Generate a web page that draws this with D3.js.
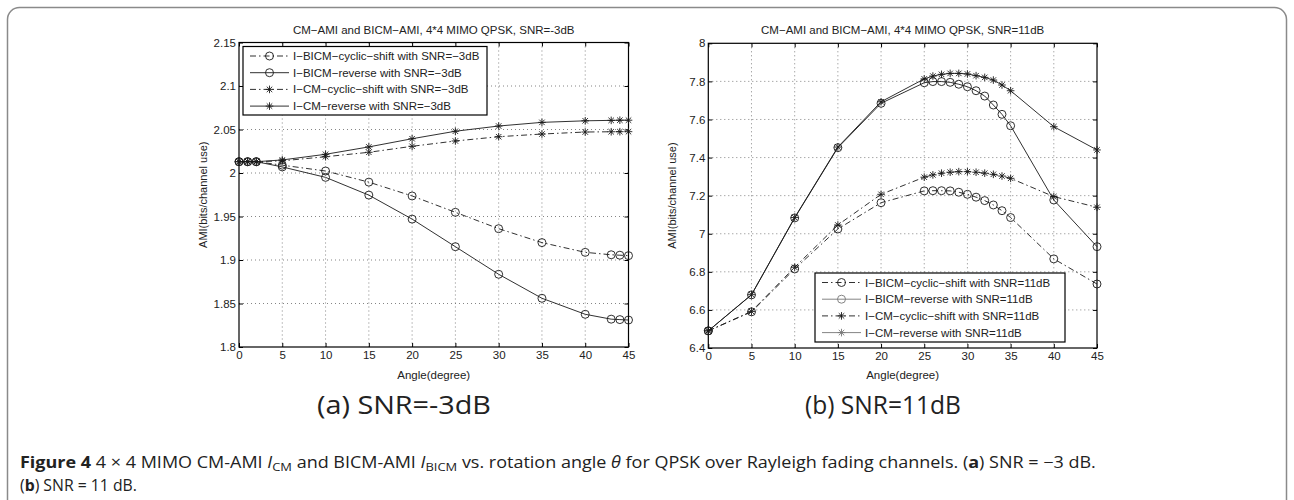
<!DOCTYPE html>
<html>
<head>
<meta charset="utf-8">
<script src="https://cdn.jsdelivr.net/npm/d3@7"></script>
<style>
  body { margin: 0; background: #fff; }
  svg { display: block; }
</style>
</head>
<body>
<div id="chart"></div>
<script>
// AMI vs rotation angle, two panels (SNR=-3dB and SNR=11dB)

const xTicks = [0, 5, 10, 15, 20, 25, 30, 35, 40, 45];

// panel (a) SNR = -3dB
const angles3 = [0, 1, 2, 5, 10, 15, 20, 25, 30, 35, 40, 43, 44, 45];
const bicmCyc3 = [2.013, 2.013, 2.013, 2.009, 2.0023, 1.9895, 1.9736, 1.9548, 1.936, 1.920, 1.9088, 1.906, 1.9055, 1.905];
const bicmRev3 = [2.013, 2.013, 2.013, 2.007, 1.995, 1.9746, 1.947, 1.9153, 1.8836, 1.856, 1.8376, 1.832, 1.8315, 1.831];
const cmCyc3 = [2.013, 2.013, 2.013, 2.014, 2.0187, 2.0238, 2.0307, 2.0368, 2.0417, 2.0448, 2.0471, 2.0474, 2.0475, 2.0475];
const cmRev3 = [2.013, 2.013, 2.013, 2.015, 2.0215, 2.030, 2.0394, 2.048, 2.054, 2.0582, 2.060, 2.0605, 2.0607, 2.0607];
const yTicks3 = [1.8, 1.85, 1.9, 1.95, 2, 2.05, 2.1, 2.15];

// panel (b) SNR = 11dB
const angles11 = [0, 5, 10, 15, 20, 25, 26, 27, 28, 29, 30, 31, 32, 33, 34, 35, 40, 45];
const bicmCyc11 = [6.49, 6.59, 6.815, 7.025, 7.163, 7.225, 7.226, 7.226, 7.225, 7.218, 7.207, 7.192, 7.174, 7.151, 7.121, 7.085, 6.868, 6.736];
const bicmRev11 = [6.49, 6.679, 7.083, 7.452, 7.685, 7.793, 7.799, 7.799, 7.795, 7.785, 7.772, 7.751, 7.723, 7.676, 7.627, 7.567, 7.177, 6.932];
const cmCyc11 = [6.49, 6.592, 6.824, 7.046, 7.207, 7.297, 7.309, 7.318, 7.323, 7.326, 7.326, 7.323, 7.318, 7.312, 7.303, 7.291, 7.195, 7.139];
const cmRev11 = [6.49, 6.68, 7.085, 7.455, 7.693, 7.813, 7.828, 7.837, 7.842, 7.842, 7.839, 7.830, 7.821, 7.807, 7.781, 7.751, 7.562, 7.44];
const yTicks11 = [6.4, 6.6, 6.8, 7, 7.2, 7.4, 7.6, 7.8, 8];

const seriesNames = ["I\u2212BICM\u2212cyclic\u2212shift", "I\u2212BICM\u2212reverse", "I\u2212CM\u2212cyclic\u2212shift", "I\u2212CM\u2212reverse"];
const seriesStyle = [
  { dash: "6,3,1.5,3", marker: "circle" },
  { dash: null, marker: "circle" },
  { dash: "6,3,1.5,3", marker: "star" },
  { dash: null, marker: "star" }
];

const W = 1294, H = 500;
const FONT = "'Liberation Sans', Arial, sans-serif";

const svg = d3.select("#chart").append("svg")
  .attr("width", W).attr("height", H)
  .attr("viewBox", `0 0 ${W} ${H}`);

// outer figure frame
svg.append("rect")
  .attr("x", 7.5).attr("y", 7.5)
  .attr("width", W - 15).attr("height", H + 30)
  .attr("rx", 12)
  .attr("fill", "none").attr("stroke", "#8a8a8a").attr("stroke-width", 1.5);

const starPath = r => {
  const d = r * 0.72;
  return `M${-r},0L${r},0M0,${-r}L0,${r}M${-d},${-d}L${d},${d}M${-d},${d}L${d},${-d}`;
};

function drawMarker(g, type, x, y, color) {
  if (type === "circle") {
    g.append("circle").attr("cx", x).attr("cy", y).attr("r", 4)
      .attr("fill", "none").attr("stroke", color).attr("stroke-width", 0.9);
  } else {
    g.append("path").attr("transform", `translate(${x},${y})`)
      .attr("d", starPath(3.8))
      .attr("fill", "none").attr("stroke", color).attr("stroke-width", 0.9);
  }
}

function drawPanel(cfg) {
  const x = d3.scaleLinear().domain([0, 45]).range(cfg.xRange);
  const y = d3.scaleLinear().domain(cfg.yDomain).range(cfg.yRange);
  const [x0, x1] = cfg.xRange;
  const [y1, y0] = cfg.yRange;
  const g = svg.append("g");

  // dotted grid
  g.append("g").selectAll("line").data(xTicks.slice(1, -1)).join("line")
    .attr("x1", d => x(d)).attr("x2", d => x(d))
    .attr("y1", y0).attr("y2", y1)
    .attr("stroke", "#666").attr("stroke-width", 0.8).attr("stroke-dasharray", "1,3");
  g.append("g").selectAll("line").data(cfg.yTicks.slice(1, -1)).join("line")
    .attr("x1", x0).attr("x2", x1)
    .attr("y1", d => y(d)).attr("y2", d => y(d))
    .attr("stroke", "#666").attr("stroke-width", 0.8).attr("stroke-dasharray", "1,3");

  // axes, ticks pointing inward
  const styleAxis = sel => {
    sel.select(".domain").remove();
    sel.selectAll("line").attr("stroke", "#000");
    sel.selectAll("text").attr("font-family", FONT).attr("font-size", 11.5).attr("fill", "#222");
  };
  g.append("g").attr("transform", `translate(0,${y1})`)
    .call(d3.axisBottom(x).tickValues(xTicks).tickSize(-4).tickPadding(4).tickFormat(d => d))
    .call(styleAxis);
  g.append("g").attr("transform", `translate(0,${y0})`)
    .call(d3.axisTop(x).tickValues(xTicks).tickSize(-4).tickFormat(""))
    .call(styleAxis);
  g.append("g").attr("transform", `translate(${x0},0)`)
    .call(d3.axisLeft(y).tickValues(cfg.yTicks).tickSize(-4).tickPadding(3).tickFormat(d => String(d)))
    .call(styleAxis);
  g.append("g").attr("transform", `translate(${x1},0)`)
    .call(d3.axisRight(y).tickValues(cfg.yTicks).tickSize(-4).tickFormat(""))
    .call(styleAxis);

  g.append("rect").attr("x", x0).attr("y", y0)
    .attr("width", x1 - x0).attr("height", y1 - y0)
    .attr("fill", "none").attr("stroke", "#000").attr("stroke-width", 1.2);

  // series
  const line = d3.line().x(d => x(d[0])).y(d => y(d[1]));
  cfg.series.forEach((vals, i) => {
    const pts = cfg.angles.map((a, k) => [a, vals[k]]);
    const st = seriesStyle[i];
    g.append("path").datum(pts)
      .attr("d", line)
      .attr("fill", "none").attr("stroke", "#1a1a1a").attr("stroke-width", 0.9)
      .attr("stroke-dasharray", st.dash);
    const mg = g.append("g");
    pts.forEach(p => drawMarker(mg, st.marker, x(p[0]), y(p[1]), "#1a1a1a"));
  });

  // title and axis labels
  g.append("text").attr("x", (x0 + x1) / 2).attr("y", 34)
    .attr("text-anchor", "middle").attr("font-family", FONT).attr("font-size", 11.5).attr("fill", "#222")
    .text(cfg.title);
  g.append("text").attr("x", (x0 + x1) / 2).attr("y", 379)
    .attr("text-anchor", "middle").attr("font-family", FONT).attr("font-size", 11.5).attr("fill", "#222")
    .text("Angle(degree)");
  g.append("text")
    .attr("transform", `translate(${x0 - 32},${(y0 + y1) / 2}) rotate(-90)`)
    .attr("text-anchor", "middle").attr("font-family", FONT).attr("font-size", 11).attr("fill", "#222")
    .text("AMI(bits/channel use)");

  // legend
  const L = cfg.legend;
  const lg = g.append("g");
  lg.append("rect").attr("x", L.x).attr("y", L.y).attr("width", L.w).attr("height", L.h)
    .attr("fill", "#fff").attr("stroke", "#000").attr("stroke-width", 1.2);
  seriesNames.forEach((name, i) => {
    const cy = L.y + 9.5 + i * L.row;
    const st = seriesStyle[i];
    const col = L.grey && !st.dash ? "#777" : "#1a1a1a";
    lg.append("line").attr("x1", L.x + 7).attr("x2", L.x + 46).attr("y1", cy).attr("y2", cy)
      .attr("stroke", col).attr("stroke-width", 0.9).attr("stroke-dasharray", st.dash);
    drawMarker(lg, st.marker, L.x + 26.5, cy, col);
    lg.append("text").attr("x", L.x + 50).attr("y", cy + 4)
      .attr("font-family", FONT).attr("font-size", 11.5).attr("fill", "#222")
      .text(`${name} with ${cfg.snrText}`);
  });
}

drawPanel({
  xRange: [239, 628.5], yDomain: [1.8, 2.15], yRange: [347, 42.5], yTicks: yTicks3,
  angles: angles3, series: [bicmCyc3, bicmRev3, cmCyc3, cmRev3],
  title: "CM\u2212AMI and BICM\u2212AMI, 4*4 MIMO QPSK, SNR=-3dB",
  snrText: "SNR=\u22123dB",
  legend: { x: 243, y: 46.5, w: 244, h: 68.5, row: 16.7, grey: false }
});

drawPanel({
  xRange: [708.3, 1097], yDomain: [6.4, 8], yRange: [348, 43.3], yTicks: yTicks11,
  angles: angles11, series: [bicmCyc11, bicmRev11, cmCyc11, cmRev11],
  title: "CM\u2212AMI and BICM\u2212AMI, 4*4 MIMO QPSK, SNR=11dB",
  snrText: "SNR=11dB",
  legend: { x: 815, y: 273, w: 250, h: 69, row: 16.7, grey: true }
});

// sub-captions and figure caption (condensed look via horizontal scale)
const CAP = "'Open Sans', 'Noto Sans', sans-serif";
function fitText(sel, x0, x1) {
  const bb = sel.node().getBBox();
  const s = (x1 - x0) / bb.width;
  sel.attr("transform", `translate(${x0},0) scale(${s},1) translate(${-bb.x},0)`);
}

const subA = svg.append("text").attr("y", 414).attr("font-family", CAP).attr("font-size", 26).attr("fill", "#222")
  .text("(a) SNR=-3dB");
fitText(subA, 317, 491);
const subB = svg.append("text").attr("y", 414).attr("font-family", CAP).attr("font-size", 26).attr("fill", "#222")
  .text("(b) SNR=11dB");
fitText(subB, 805, 961);

const cap1 = svg.append("text").attr("y", 468).attr("font-family", CAP).attr("font-size", 16).attr("fill", "#222");
cap1.append("tspan").attr("font-weight", "bold").text("Figure 4");
cap1.append("tspan").text(" 4 \u00d7 4 MIMO CM-AMI ");
cap1.append("tspan").attr("font-style", "italic").text("I");
cap1.append("tspan").attr("font-size", 11.5).attr("dy", 3).text("CM");
cap1.append("tspan").attr("dy", -3).text(" and BICM-AMI ");
cap1.append("tspan").attr("font-style", "italic").text("I");
cap1.append("tspan").attr("font-size", 11.5).attr("dy", 3).text("BICM");
cap1.append("tspan").attr("dy", -3).text(" vs. rotation angle ");
cap1.append("tspan").attr("font-style", "italic").text("\u03b8");
cap1.append("tspan").text(" for QPSK over Rayleigh fading channels. (");
cap1.append("tspan").attr("font-weight", "bold").text("a");
cap1.append("tspan").text(") SNR = \u22123 dB.");
fitText(cap1, 20, 1097);

const cap2 = svg.append("text").attr("y", 491).attr("font-family", CAP).attr("font-size", 16).attr("fill", "#222");
cap2.append("tspan").text("(");
cap2.append("tspan").attr("font-weight", "bold").text("b");
cap2.append("tspan").text(") SNR = 11 dB.");
fitText(cap2, 20, 137);
</script>
</body>
</html>
